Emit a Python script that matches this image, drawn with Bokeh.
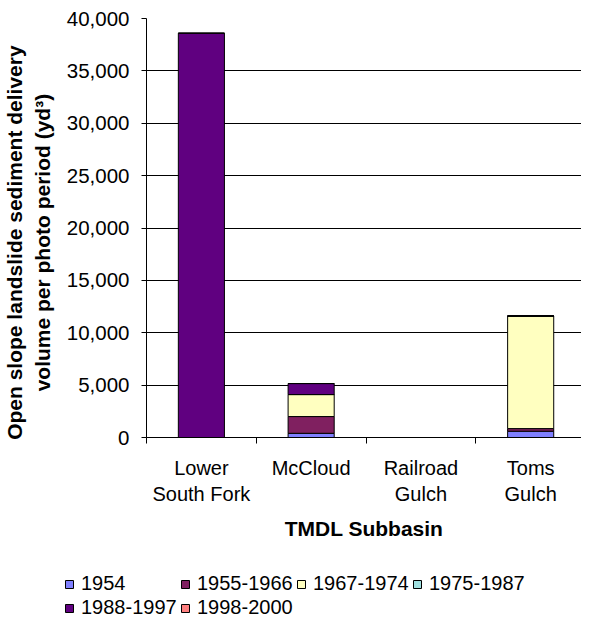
from bokeh.plotting import figure
from bokeh.layouts import column, row
from bokeh.models import (ColumnDataSource, Range1d, FixedTicker, NumeralTickFormatter,
                          Legend, LegendItem)
from bokeh.embed import file_html
from bokeh.resources import INLINE

categories = ["Lower\nSouth Fork", "McCloud", "Railroad\nGulch", "Toms\nGulch"]
periods = ["1954", "1955-1966", "1967-1974", "1975-1987", "1988-1997", "1998-2000"]
v1954 = [0, 400, 0, 600]
v1955_1966 = [0, 1600, 0, 250]
v1967_1974 = [0, 2100, 0, 10750]
v1975_1987 = [0, 0, 0, 0]
v1988_1997 = [38600, 1050, 0, 0]
v1998_2000 = [0, 0, 0, 0]
colors = ["#8080FF", "#802060", "#FFFFC0", "#A0E0E0", "#600080", "#FF8080"]
y_ticks = [0, 5000, 10000, 15000, 20000, 25000, 30000, 35000, 40000]

FONT = "Liberation Sans"
PAD = "\u00a0" * 5

xc = [i + 0.5 for i in range(len(categories))]
data = {"x": xc}
series = [v1954, v1955_1966, v1967_1974, v1975_1987, v1988_1997, v1998_2000]
for name, vals in zip(periods, series):
    data[name] = vals
src = ColumnDataSource(data)

p = figure(width=581, height=563, output_backend="svg", toolbar_location=None,
           x_range=Range1d(0, 3.963), y_range=Range1d(0, 40000),
           min_border_left=136, min_border_right=0, min_border_top=18,
           min_border_bottom=126)
p.outline_line_color = None
p.background_fill_color = "white"
p.border_fill_color = "white"

renderers = p.vbar_stack(periods, x="x", width=0.42, color=colors,
                         line_color="black", line_width=1, source=src)

p.xgrid.grid_line_color = None
p.ygrid.grid_line_color = "#000000"
p.ygrid.grid_line_width = 1
p.ygrid.ticker = FixedTicker(ticks=y_ticks)

p.yaxis.ticker = FixedTicker(ticks=y_ticks)
p.yaxis.formatter = NumeralTickFormatter(format="0,0")
p.yaxis.major_tick_out = 5
p.yaxis.major_tick_in = 0
p.yaxis.minor_tick_line_color = None
p.yaxis.major_label_standoff = 12
p.yaxis.axis_label = ("Open slope landslide sediment delivery" + PAD +
                      "\nvolume per photo period (yd\u00b3)" + PAD)
p.yaxis.axis_label_standoff = 10

p.xaxis.ticker = FixedTicker(ticks=xc, minor_ticks=[0, 1, 2, 3, 4])
p.xaxis.major_label_overrides = {x: c for x, c in zip(xc, categories)}
p.xaxis.major_tick_out = 0
p.xaxis.major_tick_in = 0
p.xaxis.minor_tick_out = 6
p.xaxis.minor_tick_in = 0
p.xaxis.minor_tick_line_color = "black"
p.xaxis.major_label_standoff = 13
p.xaxis.axis_label = "TMDL Subbasin"
p.xaxis.axis_label_standoff = 9

for ax in (p.xaxis[0], p.yaxis[0]):
    ax.axis_line_color = "black"
    ax.axis_line_width = 1
    ax.major_label_text_font = FONT
    ax.major_label_text_color = "black"
    ax.axis_label_text_font = FONT
    ax.axis_label_text_font_size = "21px"
    ax.axis_label_text_font_style = "bold"
    ax.axis_label_text_color = "black"
p.yaxis.major_tick_line_color = "black"
p.xaxis.major_tick_line_color = None
p.yaxis.major_label_text_font_size = "20.5px"
p.xaxis.major_label_text_font_size = "20px"

# legend in its own strip below the chart
q = figure(width=581, height=56, output_backend="svg", toolbar_location=None,
           x_range=Range1d(0, 1), y_range=Range1d(0, 1),
           min_border=0)
q.axis.visible = False
q.grid.grid_line_color = None
q.outline_line_color = None
q.background_fill_color = "white"
q.border_fill_color = "white"
lrs = []
for c in colors:
    dummy = ColumnDataSource({"x": [-5], "top": [0]})
    lrs.append(q.vbar(x="x", top="top", width=0.1, fill_color=c,
                      line_color="black", source=dummy))
items = [LegendItem(label=lab, renderers=[r]) for lab, r in zip(periods, lrs)]
legend = Legend(items=items, orientation="horizontal", ncols=4,
                location=(64, 0),
                label_text_font=FONT, label_text_font_size="20px",
                label_text_color="black",
                glyph_width=10, glyph_height=10, label_standoff=7,
                label_width=98, label_height=20, spacing=1,
                padding=0, margin=0, border_line_color=None,
                background_fill_alpha=0)
q.add_layout(legend, "center")

layout = column(p, row(q), spacing=0)
open("out.html", "w").write(file_html(layout, INLINE))
